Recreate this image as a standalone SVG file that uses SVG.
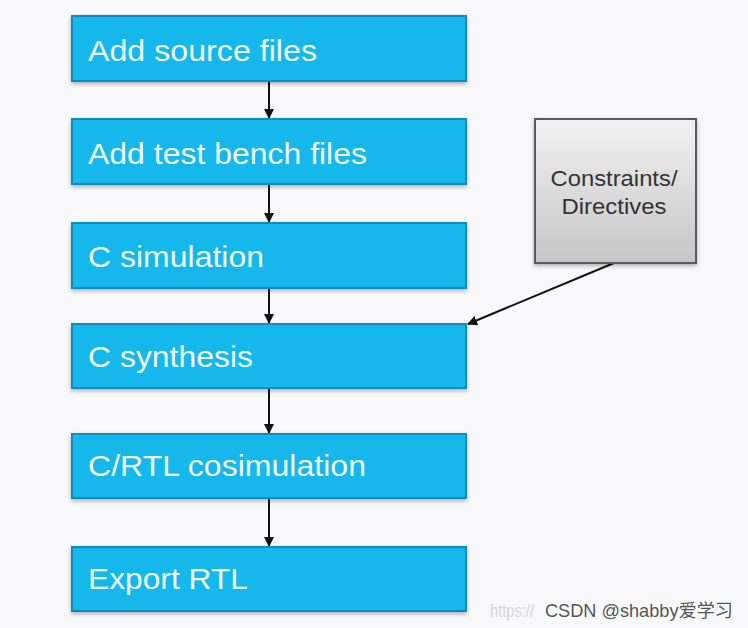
<svg xmlns="http://www.w3.org/2000/svg" width="748" height="628" viewBox="0 0 748 628">
<defs>
<linearGradient id="gg" x1="0" y1="0" x2="0" y2="1">
<stop offset="0" stop-color="#f2f2f2"/>
<stop offset="1" stop-color="#c6c6c6"/>
</linearGradient>
<marker id="ah" markerWidth="10" markerHeight="10" refX="9" refY="5" orient="auto" markerUnits="userSpaceOnUse">
<path d="M0,0 L10,5 L0,10 Z" fill="#111"/>
</marker>
<filter id="sh" x="-5%" y="-10%" width="110%" height="130%">
<feDropShadow dx="0" dy="2" stdDeviation="2" flood-color="#000" flood-opacity="0.3"/>
</filter>
</defs>
<style>
.b{fill:#16b7eb;stroke:#0b8cc0;stroke-width:2;filter:url(#sh)}
.t{font-family:"Liberation Sans",Arial,sans-serif;font-size:29px;fill:#eefaff}
.g{fill:url(#gg);stroke:#5a5a5a;stroke-width:2;filter:url(#sh)}
.gt{font-family:"Liberation Sans",Arial,sans-serif;font-size:22px;fill:#333;text-anchor:middle}
.c{stroke:#111;stroke-width:2;fill:none;marker-end:url(#ah)}
.w{font-family:"Liberation Sans","Noto Sans CJK SC",sans-serif;font-size:18px}
</style>
<rect width="748" height="628" fill="#f9f9fb"/>
<g id="connectors">
<line class="c" x1="269" y1="82" x2="269" y2="118"/>
<line class="c" x1="269" y1="185" x2="269" y2="222"/>
<line class="c" x1="269" y1="288" x2="269" y2="323"/>
<line class="c" x1="269" y1="388" x2="269" y2="433"/>
<line class="c" x1="269" y1="498" x2="269" y2="546"/>
<line class="c" x1="614" y1="263" x2="468" y2="324"/>
</g>
<g id="n1"><rect class="b" x="72" y="16" width="394" height="65"/><text class="t" x="88" y="61" textLength="229" lengthAdjust="spacingAndGlyphs">Add source files</text></g>
<g id="n2"><rect class="b" x="72" y="119" width="394" height="65"/><text class="t" x="88" y="164" textLength="279" lengthAdjust="spacingAndGlyphs">Add test bench files</text></g>
<g id="n3"><rect class="b" x="72" y="223" width="394" height="65"/><text class="t" x="88" y="267" textLength="176" lengthAdjust="spacingAndGlyphs">C simulation</text></g>
<g id="n4"><rect class="b" x="72" y="324" width="394" height="64"/><text class="t" x="88" y="367" textLength="165" lengthAdjust="spacingAndGlyphs">C synthesis</text></g>
<g id="n5"><rect class="b" x="72" y="434" width="394" height="64"/><text class="t" x="88" y="476" textLength="278" lengthAdjust="spacingAndGlyphs">C/RTL cosimulation</text></g>
<g id="n6"><rect class="b" x="72" y="547" width="394" height="64"/><text class="t" x="88" y="589" textLength="160" lengthAdjust="spacingAndGlyphs">Export RTL</text></g>
<g id="n7"><rect class="g" x="535" y="119" width="161" height="144"/><text class="gt" x="614" y="186" textLength="127" lengthAdjust="spacingAndGlyphs">Constraints/</text><text class="gt" x="614" y="214" textLength="105" lengthAdjust="spacingAndGlyphs">Directives</text></g>
<g id="watermark">
<text class="w" x="490" y="617" fill="#d4d4d8" font-size="14" textLength="44" lengthAdjust="spacingAndGlyphs">https://</text>
<text class="w" x="545" y="617" fill="#555" textLength="188" lengthAdjust="spacingAndGlyphs">CSDN @shabby爱学习</text>
</g>
</svg>
